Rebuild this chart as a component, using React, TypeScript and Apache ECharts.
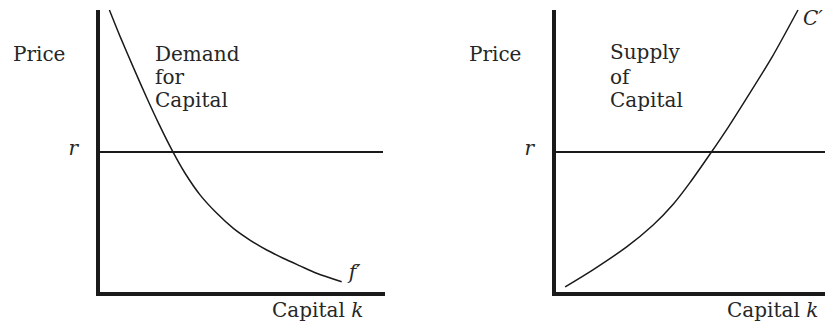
import React, { useEffect, useRef } from "react";
import * as echarts from "echarts";

// Demand for capital (f')
const DEMAND_K = [4.0, 7.7, 12.4, 17.1, 21.4, 26.2, 30.5, 35.8, 41.7, 47.5, 53.3, 59.2, 65.0, 70.9, 76.7, 85.5];
const DEMAND_P = [100, 90.8, 79.8, 69.1, 59.8, 50.2, 42.6, 34.9, 28.4, 23.1, 19.0, 15.5, 12.6, 9.9, 7.3, 4.3];
// Supply of capital (C')
const SUPPLY_K = [3.9, 13.8, 25.5, 34.8, 41.9, 47.7, 54.7, 61.1, 67.0, 76.5, 85.6];
const SUPPLY_P = [2.5, 8.6, 16.6, 24.3, 31.7, 39.2, 49.2, 58.7, 68.0, 83.4, 100];
// Interest rate level
const RATE = 50;
const RATE_LINE_K = [0, 100];
const PRICE_TICK_LABELS: Record<number, string> = { 50: "r" };

const FONT = "DejaVu Serif";
const INK = "#1a1a1a";
const TEXT = "#262626";

const zip = (a: number[], b: number[]) => a.map((v, i) => [v, b[i]]);

export default function App() {
  const ref = useRef<HTMLDivElement>(null);
  useEffect(() => {
    if (!ref.current) return;
    const chart = echarts.init(ref.current, null, { renderer: "svg" });
    const xAxisBase = (gridIndex: number) => ({
      type: "value",
      gridIndex,
      min: 0,
      max: 100,
      axisLine: { show: true, onZero: false, lineStyle: { color: INK, width: 4, cap: "square" } },
      axisTick: { show: false },
      axisLabel: { show: false },
      splitLine: { show: false },
    });
    const yAxisBase = (gridIndex: number) => ({
      type: "value",
      gridIndex,
      min: 0,
      max: 100,
      interval: 50,
      axisLine: { show: true, onZero: false, lineStyle: { color: INK, width: 4, cap: "butt" } },
      axisTick: { show: false },
      axisLabel: {
        show: true,
        margin: 20,
        fontFamily: FONT,
        fontStyle: "italic",
        fontSize: 20,
        lineHeight: 8,
        color: TEXT,
        verticalAlign: "bottom",
        formatter: (v: number) => PRICE_TICK_LABELS[v] ?? "",
      },
      splitLine: { show: false },
    });
    const curve = (name: string, data: number[][], idx: number, label: string, offset: number[]) => ({
      name,
      type: "line",
      xAxisIndex: idx,
      yAxisIndex: idx,
      data,
      smooth: 0.25,
      symbol: "none",
      clip: true,
      lineStyle: { color: INK, width: 1.5 },
      endLabel: {
        show: true,
        formatter: label,
        distance: 5,
        offset,
        fontFamily: FONT,
        fontStyle: "italic",
        fontSize: 20,
        color: TEXT,
      },
    });
    const rateLine = (idx: number) => ({
      type: "line",
      xAxisIndex: idx,
      yAxisIndex: idx,
      data: RATE_LINE_K.map((k) => [k, RATE]),
      symbol: "none",
      lineStyle: { color: INK, width: 2 },
    });
    const txt = (text: string, x: number, y: number) => ({
      type: "text",
      x,
      y,
      style: { text, fontFamily: FONT, fontSize: 20, fill: TEXT, verticalAlign: "middle", align: "left" },
    });
    const capK = (x: number, y: number) => ({
      type: "text",
      x,
      y,
      style: {
        text: "{a|Capital} {b|k}",
        fontFamily: FONT,
        fontSize: 20,
        fill: TEXT,
        verticalAlign: "middle",
        rich: {
          a: { fontFamily: FONT, fontSize: 20, fill: TEXT },
          b: { fontFamily: FONT, fontSize: 20, fontStyle: "italic", fill: TEXT },
        },
      },
    });
    chart.setOption({
      animation: false,
      backgroundColor: "#ffffff",
      grid: [
        { left: 98, top: 10, width: 285, height: 284, outerBoundsMode: "none" },
        { left: 554, top: 10, width: 285, height: 284, outerBoundsMode: "none" },
      ],
      xAxis: [xAxisBase(0), xAxisBase(1)],
      yAxis: [yAxisBase(0), yAxisBase(1)],
      series: [
        rateLine(0),
        rateLine(1),
        curve("Demand", zip(DEMAND_K, DEMAND_P), 0, "f′", [2, -10]),
        curve("Supply", zip(SUPPLY_K, SUPPLY_P), 1, "C′", [0, 8]),
      ],
      graphic: [
        txt("Price", 13, 54),
        txt("Demand", 155, 54),
        txt("for", 155, 77),
        txt("Capital", 155, 100),
        capK(272, 310),
        txt("Price", 469, 54),
        txt("Supply", 610, 52),
        txt("of", 610, 77),
        txt("Capital", 610, 100),
        capK(727, 310),
      ],
    });
    return () => chart.dispose();
  }, []);
  return (
    <div
      ref={ref}
      style={{ position: "fixed", left: 0, top: 0, width: 825, height: 324, background: "#fff" }}
    />
  );
}
